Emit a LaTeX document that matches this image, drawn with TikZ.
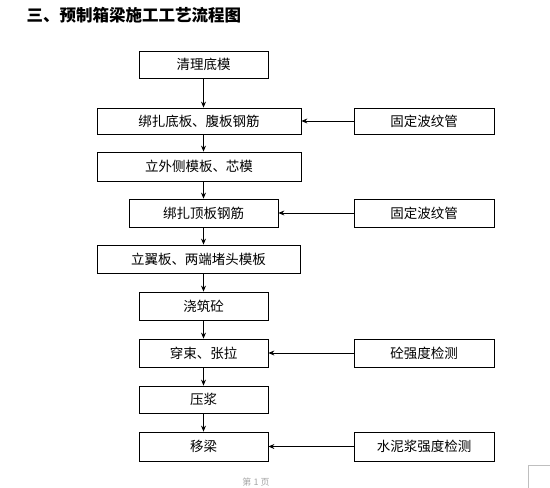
\documentclass[tikz,border=0pt]{standalone}
\usepackage{fontspec}
\newfontfamily\cjk{Noto Sans CJK SC}
\usetikzlibrary{arrows.meta}
\begin{document}
\begin{tikzpicture}[x=1pt,y=-1pt,
  stepbox/.style={draw, line width=0.8pt, rectangle, inner sep=0pt, font=\cjk\fontsize{13.5}{15}\selectfont},
  arr/.style={-{Stealth[length=6pt,width=5pt]}, line width=0.8pt}]
\useasboundingbox (0,0) rectangle (550,488);
\clip (0,0) rectangle (550,488);
\node (title) [anchor=west, font=\cjk\bfseries\fontsize{16.5}{18}\selectfont] at (23,15) {三、预制箱梁施工工艺流程图};
\node (Q) [stepbox, minimum width=129pt, minimum height=27pt] at (203.5,64.5) {清理底模};
\node (B1) [stepbox, minimum width=204pt, minimum height=26pt] at (199,121) {绑扎底板、腹板钢筋};
\node (G1) [stepbox, minimum width=140pt, minimum height=26pt] at (424,121) {固定波纹管};
\node (L) [stepbox, minimum width=204pt, minimum height=29pt] at (199,166.5) {立外侧模板、芯模};
\node (B2) [stepbox, minimum width=149pt, minimum height=28pt] at (203.5,213) {绑扎顶板钢筋};
\node (G2) [stepbox, minimum width=140pt, minimum height=28pt] at (424,213) {固定波纹管};
\node (Y) [stepbox, minimum width=203pt, minimum height=28pt] at (198.5,259) {立翼板、两端堵头模板};
\node (J) [stepbox, minimum width=129pt, minimum height=28pt] at (203.5,306) {浇筑砼};
\node (C) [stepbox, minimum width=129pt, minimum height=28pt] at (203.5,353) {穿束、张拉};
\node (T) [stepbox, minimum width=140pt, minimum height=28pt] at (424,353) {砼强度检测};
\node (P) [stepbox, minimum width=129pt, minimum height=27pt] at (203.5,399.5) {压浆};
\node (M) [stepbox, minimum width=129pt, minimum height=29pt] at (203.5,446.5) {移梁};
\node (S) [stepbox, minimum width=140pt, minimum height=29pt] at (424,446.5) {水泥浆强度检测};
\draw[arr] (Q) -- (Q |- B1.north);
\draw[arr] (Q |- B1.south) -- (Q |- L.north);
\draw[arr] (Q |- L.south) -- (B2);
\draw[arr] (B2) -- (B2 |- Y.north);
\draw[arr] (B2 |- Y.south) -- (J);
\draw[arr] (J) -- (C);
\draw[arr] (C) -- (P);
\draw[arr] (P) -- (M);
\draw[arr] (G1) -- (B1);
\draw[arr] (G2) -- (B2);
\draw[arr] (T) -- (C);
\draw[arr] (S) -- (M);
\node (page) [text=black!35, inner sep=0pt, font=\cjk\fontsize{9}{10}\selectfont] at (256,482) {第 1 页};
\draw[black!25, line width=0.6pt] (550,465) -- (528,465) -- (528,488);
\end{tikzpicture}
\end{document}
